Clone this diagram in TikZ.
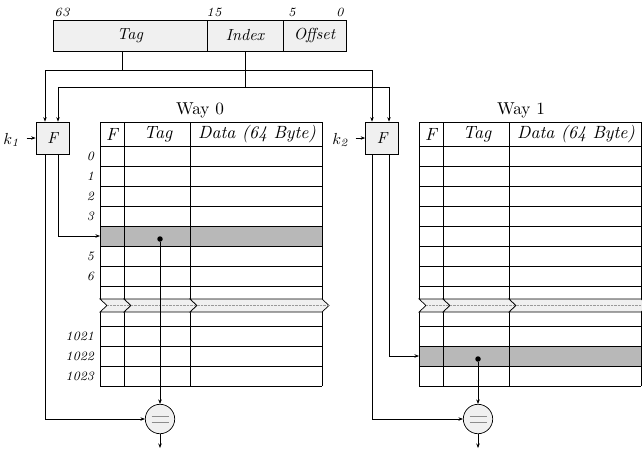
\documentclass[tikz,border=0pt]{standalone}
\usepackage{tikz}
\usetikzlibrary{math,arrows.meta}

\newcommand{\bigit}[1]{\scalebox{1.6}{\itshape #1}}

\begin{document}
\begin{tikzpicture}[x=1pt,y=-1pt,line width=0.7pt,
  >={Stealth[length=4.5pt,width=3.5pt]},
  field/.style={draw, fill=black!6, inner sep=0pt, outer sep=0pt, minimum height=31pt},
  fbox/.style={draw, fill=black!6, inner sep=0pt, minimum width=33pt, minimum height=32pt},
  cmp/.style={draw, circle, fill=black!6, minimum size=29.4pt, inner sep=0pt},
  head/.style={scale=1.77, font=\itshape},
  rowno/.style={anchor=east, inner sep=1pt, scale=1.6, font=\footnotesize\itshape},
  bitno/.style={scale=1.8, font=\scriptsize\itshape},
  waytitle/.style={scale=1.72},
  keyin/.style={scale=1.6}]
  \tikzmath{\w = 319; \ytop = 122; \ybrk = 299;}
  \useasboundingbox (0,0) rectangle (642,451);

  % address
  \node[field, minimum width=154pt] (tagf) at (130,35.5) {\bigit{Tag}};
  \node[field, minimum width=76pt, anchor=west] (indexf) at (tagf.east) {\bigit{Index}};
  \node[field, minimum width=63pt, anchor=west] (offsetf) at (indexf.east) {\bigit{Offset}};
  \node[bitno] (b63) at (62,12) {63};
  \node[bitno] (b15) at (214,12) {15};
  \node[bitno] (b5) at (292,12) {5};
  \node[bitno] (b0) at (340,12) {0};
  \coordinate (tago) at (122,51);
  \coordinate (idxo) at (245,51);

  % ways
  \foreach \s/\hl in {0/226, \w/346} {
    \fill[black!28] (100+\s,\hl) rectangle ++(222,20);
    \draw (100+\s,\ytop) rectangle (322+\s,146);
    \foreach \y in {166,186,...,286,326,346,366,386}
      \draw (100+\s,\y) -- ++(222,0);
    \foreach \x in {100,124,190,322} {
      \draw (\x+\s,\ytop) -- (\x+\s,\ybrk);
      \draw (\x+\s,\ybrk+13) -- (\x+\s,386);
    }
    \foreach \a/\b in {100/124,124/190,190/322}
      \draw[fill=black!6] (\a+\s,\ybrk) -- (\b+\s,\ybrk) -- ++(7,6.5) -- (\b+\s,\ybrk+13)
        -- (\a+\s,\ybrk+13) -- ++(7,-6.5) -- cycle;
    \draw[densely dotted, black!40, line width=0.4pt] (107+\s,\ybrk+6.5) -- (329+\s,\ybrk+6.5);
    \node[head] (hf-\s) at (112+\s,134) {F};
    \node[head] (ht-\s) at (158+\s,134) {Tag};
    \node[head] (hd-\s) at (257+\s,134) {Data (64 Byte)};
  }
  \node[waytitle] (way0) at (200,110) {Way 0};
  \node[waytitle] (way1) at (521,110) {Way 1};
  \foreach \n/\y in {0/156,1/176,2/196,3/216,5/256,6/276,1021/336,1022/356,1023/376}
    \node[rowno] (r\n) at (96,\y) {\n};

  % hash boxes
  \node[fbox] (f0) at (52.5,138) {\bigit{F}};
  \node[fbox] (f1) at (382,138) {\bigit{F}};
  \node[keyin] (k1) at (12,140) {$k_{\mathit{1}}$};
  \node[keyin] (k2) at (341,140) {$k_{\mathit{2}}$};
  \draw[->] (k1.east |- f0.west) -- (f0.west);
  \draw[->] (k2.east |- f1.west) -- (f1.west);

  \draw[->] (tago) -- ++(0,19) -| ([xshift=-7.5pt]f0.north);
  \draw[->] (tago) -- ++(0,19) -| ([xshift=-10pt]f1.north);
  \draw[->] (idxo) -- ++(0,36) -| ([xshift=5.5pt]f0.north);
  \draw[->] (idxo) -- ++(0,36) -| ([xshift=7pt]f1.north);

  % compare
  \coordinate (sel0) at (100,236);
  \coordinate (sel1) at (419,356);
  \node[circle, fill, inner sep=0pt, minimum size=5.5pt] (d0) at (160,239) {};
  \node[circle, fill, inner sep=0pt, minimum size=5.5pt] (d1) at (478,359) {};
  \node[cmp] (eq0) at (160,419) {};
  \node[cmp] (eq1) at (478,419) {};
  \draw[black!45] ([shift={(-8.5,-3)}]eq0.center) -- ++(17,0) ([shift={(-8.5,3)}]eq0.center) -- ++(17,0);
  \draw[black!45] ([shift={(-8.5,-3)}]eq1.center) -- ++(17,0) ([shift={(-8.5,3)}]eq1.center) -- ++(17,0);
  \coordinate (out0) at (160,448);
  \coordinate (out1) at (478,448);

  \draw[->] ([xshift=-7.5pt]f0.south) |- (eq0.west);
  \draw[->] ([xshift=5.5pt]f0.south) |- (sel0);
  \draw[->] ([xshift=-10pt]f1.south) |- (eq1.west);
  \draw[->] ([xshift=7pt]f1.south) |- (sel1);
  \draw[->] (d0) -- (eq0.north);
  \draw[->] (d1) -- (eq1.north);
  \draw[->] (eq0.south) -- (out0);
  \draw[->] (eq1.south) -- (out1);
\end{tikzpicture}
\end{document}
